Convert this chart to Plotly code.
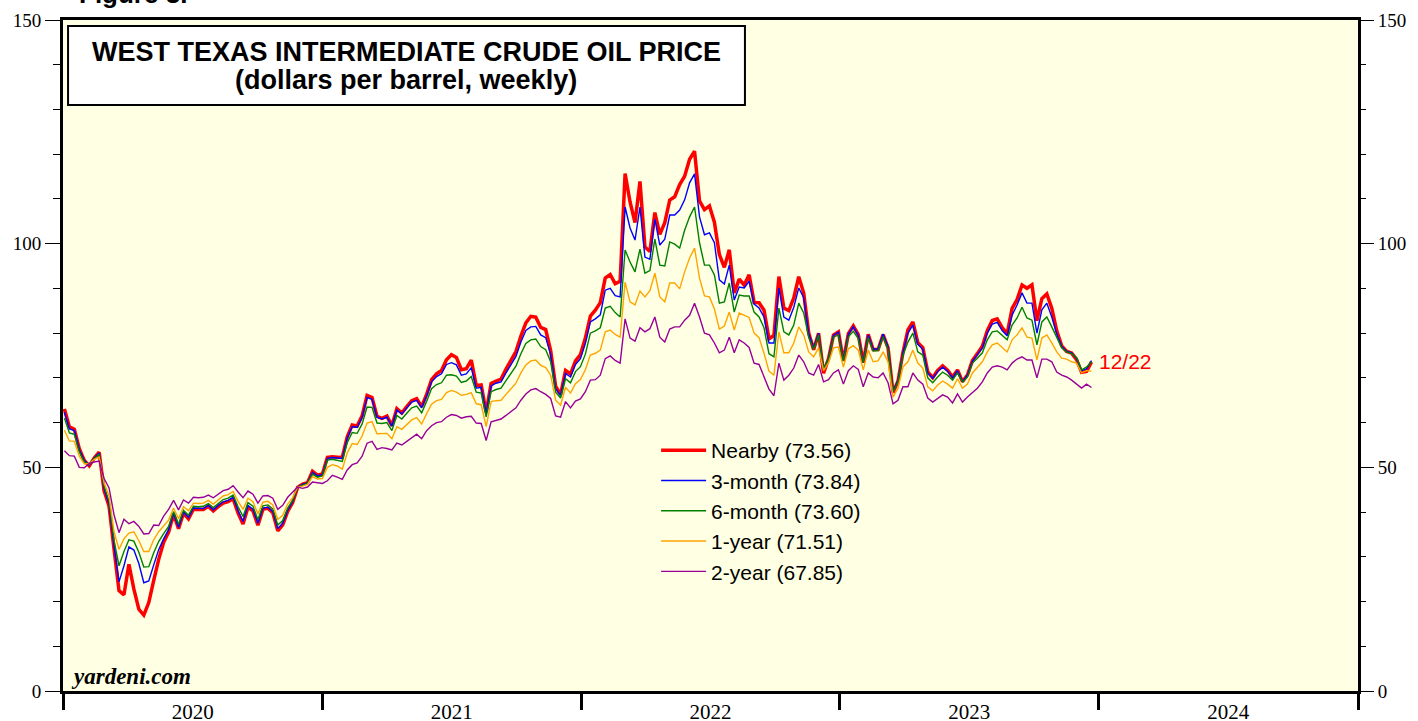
import pandas as pd
import plotly.graph_objects as go

# Weekly dates (Fridays) Jan 3, 2020 .. Dec 22, 2023
dates = pd.date_range("2020-01-03", "2023-12-22", freq="W-FRI")

nearby = [
    63.05, 59.04, 58.54, 54.19, 51.56, 50.32, 52.05, 53.38, 44.76, 41.28, 31.73, 22.43, 21.51,
    28.34, 22.76, 18.27, 16.94, 19.78, 24.74, 29.43, 33.25, 35.49, 39.55, 36.26, 39.75, 38.49,
    40.65, 40.55, 40.59, 41.29, 40.27, 41.22, 42.01, 42.34, 42.97, 39.77, 37.33, 41.11, 40.25,
    37.05, 40.60, 40.88, 39.85, 35.79, 37.14, 40.13, 42.15, 45.53, 46.26, 46.57, 49.10, 48.23,
    48.52, 52.24, 52.36, 52.27, 52.20, 56.85, 59.47, 59.24, 61.50, 66.09, 65.61, 61.42, 60.97,
    61.45, 59.32, 63.13, 62.14, 63.58, 64.90, 65.37, 63.58, 66.32, 69.62, 70.91, 71.64, 74.05,
    75.16, 74.56, 71.81, 72.07, 73.95, 68.28, 68.44, 62.32, 68.74, 69.29, 69.72, 71.97, 73.98,
    75.88, 79.35, 82.28, 83.76, 83.57, 81.27, 80.79, 76.10, 68.15, 66.26, 71.67, 70.86, 73.79, 75.21,
    78.90, 83.82, 85.14, 86.82, 92.31, 93.10, 91.07, 91.59, 115.68, 109.33, 104.70, 113.90,
    99.27, 98.26, 106.95, 102.07, 104.69, 109.77, 110.49, 113.23, 115.07, 118.87, 120.67, 109.56,
    107.62, 108.43, 104.79, 97.59, 94.70, 98.62, 89.01, 92.09, 90.77, 93.06, 86.87, 86.79, 85.11,
    78.74, 79.49, 92.64, 85.61, 85.05, 87.90, 92.61, 88.96, 80.08, 76.28, 79.98, 71.02, 74.29,
    79.56, 80.26,
    73.77, 79.86, 81.64, 79.68, 73.39, 79.72, 76.34, 76.32, 79.68, 76.68, 66.74, 69.26, 75.67,
    80.70, 82.52, 77.87, 76.78, 71.34, 70.04, 71.69, 72.67, 71.74, 70.17, 71.78, 69.16, 70.64,
    73.86, 75.42, 77.07, 80.58, 82.82, 83.19, 81.25, 79.83, 85.55, 87.51, 90.77, 90.03, 90.79,
    82.79, 87.69, 88.75, 85.54, 80.51, 77.17, 75.89, 75.54, 74.07, 71.23, 71.43, 73.56,
]

month3 = [
    62.3, 58.6, 58.2, 54.0, 51.5, 50.5, 52.1, 53.2, 45.2, 41.7, 32.4, 24.4, 28.0,
    32.2, 31.5, 28.5, 24.2, 24.6, 28.2, 31.6, 34.0, 36.0, 39.7, 36.6, 40.0, 38.8,
    40.9, 40.8, 40.8, 41.5, 40.5, 41.5, 42.3, 42.6, 43.3, 40.3, 37.9, 41.5, 40.6,
    37.5, 40.9, 41.1, 40.1, 36.3, 37.5, 40.4, 42.3, 45.6, 46.2, 46.5, 48.9, 48.1,
    48.4, 52.0, 52.2, 52.1, 52.0, 56.5, 59.1, 58.9, 61.2, 65.6, 65.2, 61.2, 60.8,
    61.2, 59.2, 62.8, 61.9, 63.3, 64.6, 65.0, 63.3, 66.0, 69.1, 70.3, 70.9, 73.0,
    73.4, 72.9, 70.6, 70.9, 72.3, 67.7, 67.9, 62.1, 68.2, 68.8, 69.1, 71.1, 73.0,
    74.8, 78.0, 80.6, 81.4, 81.5, 79.6, 79.0, 75.2, 67.6, 66.1, 71.0, 70.2, 73.0, 74.3,
    77.7, 82.5, 83.2, 84.1, 89.6, 90.0, 88.4, 88.1, 108.2, 103.5, 100.8, 108.2,
    97.0, 96.5, 105.5, 99.7, 101.0, 106.4, 106.4, 107.5, 109.8, 113.6, 115.6, 106.0,
    102.0, 102.4, 100.2, 91.9, 91.0, 95.2, 87.4, 90.3, 90.1, 91.6, 86.5, 85.6, 83.6,
    77.8, 77.8, 90.1, 83.6, 82.9, 85.8, 90.1, 87.9, 80.0, 76.6, 80.0, 71.8, 74.4,
    79.5, 80.2,
    74.0, 79.8, 81.4, 79.5, 73.5, 79.6, 76.4, 76.5, 79.8, 76.9, 67.0, 69.4, 75.6,
    80.0, 81.8, 77.5, 76.4, 71.1, 69.9, 71.4, 72.4, 71.5, 70.0, 71.6, 69.2, 70.6,
    73.7, 75.2, 76.7, 80.0, 82.0, 82.4, 80.6, 79.4, 84.0, 86.3, 89.0, 86.7, 86.7,
    80.0, 85.2, 86.7, 83.6, 79.8, 77.0, 75.9, 75.6, 74.3, 71.6, 72.0, 73.84,
]

month6 = [
    61.0, 57.7, 57.4, 53.5, 51.2, 50.7, 52.0, 52.9, 45.7, 42.4, 33.6, 28.0, 31.2,
    33.8, 33.5, 31.0, 27.7, 27.8, 30.9, 33.4, 35.2, 36.8, 40.1, 37.3, 40.4, 39.3,
    41.3, 41.2, 41.3, 41.9, 41.0, 42.0, 42.8, 43.1, 43.8, 41.2, 39.0, 42.1, 41.3,
    38.3, 41.4, 41.6, 40.7, 37.1, 38.1, 40.9, 42.6, 45.6, 46.0, 46.4, 48.5, 47.8,
    48.1, 51.6, 51.8, 51.6, 51.3, 55.5, 57.8, 57.6, 59.7, 63.5, 63.4, 59.9, 59.8,
    60.0, 58.2, 61.6, 60.8, 62.1, 63.3, 63.7, 62.2, 64.7, 67.6, 68.5, 68.9, 70.6,
    70.7, 70.4, 69.0, 69.3, 70.3, 66.8, 66.6, 61.3, 66.9, 67.4, 67.7, 69.4, 71.0,
    72.6, 75.4, 77.7, 78.5, 78.7, 77.0, 76.3, 73.6, 66.8, 65.5, 69.8, 68.9, 71.4, 72.5,
    75.3, 80.0, 80.5, 81.2, 85.6, 86.0, 84.6, 83.6, 98.6, 95.9, 93.7, 98.8,
    93.4, 94.0, 101.0, 95.2, 95.0, 100.4, 99.9, 99.0, 103.0, 106.0, 108.2, 100.2,
    95.2, 95.2, 93.0, 86.7, 87.0, 91.2, 84.7, 88.5, 88.3, 88.3, 84.7, 83.6, 81.2,
    75.4, 74.7, 85.6, 80.3, 79.6, 81.8, 86.7, 84.5, 79.1, 76.4, 79.6, 72.0, 74.3,
    79.1, 79.6,
    73.8, 79.2, 80.4, 78.8, 73.4, 79.0, 76.0, 76.1, 79.2, 76.4, 66.9, 69.1, 75.0,
    78.0, 80.0, 75.8, 75.1, 70.0, 68.9, 70.2, 71.3, 70.6, 69.5, 71.1, 69.1, 70.2,
    73.3, 74.4, 75.6, 78.5, 80.3, 80.5, 79.6, 78.5, 81.8, 83.4, 85.8, 83.4, 82.9,
    77.4, 82.5, 83.6, 81.4, 78.9, 76.7, 75.8, 75.4, 74.5, 71.8, 72.4, 73.60,
]

year1 = [
    58.3, 55.9, 55.8, 52.5, 50.8, 50.8, 51.8, 52.3, 46.5, 43.6, 35.6, 31.7, 34.0,
    35.3, 35.6, 33.6, 31.2, 31.2, 33.8, 35.6, 36.9, 38.2, 40.9, 38.5, 41.2, 40.3,
    42.0, 41.9, 42.0, 42.6, 41.8, 42.8, 43.6, 43.9, 44.6, 42.4, 40.6, 43.1, 42.3,
    39.6, 42.2, 42.4, 41.6, 38.4, 39.3, 41.8, 43.2, 45.6, 45.8, 46.2, 47.9, 47.4,
    47.5, 50.0, 50.6, 50.3, 49.6, 53.2, 55.3, 55.1, 57.0, 59.9, 60.2, 57.5, 57.6,
    57.6, 56.4, 59.1, 58.5, 59.6, 60.6, 61.1, 59.7, 62.0, 64.1, 64.9, 65.2, 66.7,
    67.2, 66.8, 66.1, 66.3, 66.7, 64.2, 64.0, 59.1, 64.7, 64.9, 65.0, 66.3, 67.6,
    68.8, 71.1, 72.9, 73.8, 74.0, 72.8, 72.3, 70.6, 65.0, 63.9, 67.9, 66.6, 68.7, 69.6,
    71.8, 75.1, 75.5, 76.2, 80.3, 80.7, 79.7, 79.1, 91.4, 87.0, 86.3, 89.4,
    88.1, 89.5, 93.4, 88.1, 87.0, 91.2, 91.2, 89.9, 93.7, 96.8, 99.0, 92.3,
    88.3, 88.1, 85.4, 80.9, 81.6, 84.7, 80.7, 84.5, 84.0, 83.5, 80.0, 79.0, 75.5,
    71.5, 70.6, 80.3, 75.6, 75.6, 77.8, 81.4, 79.6, 75.8, 74.7, 76.7, 71.6, 73.4,
    76.7, 76.9,
    72.4, 76.5, 77.2, 76.2, 71.8, 76.2, 73.6, 73.8, 75.8, 73.6, 65.7, 67.7, 72.4,
    73.6, 76.2, 73.3, 72.2, 68.0, 67.1, 68.4, 69.3, 68.6, 67.7, 69.8, 67.7, 68.6,
    71.1, 72.4, 73.6, 75.8, 77.4, 77.8, 76.9, 75.8, 78.5, 79.6, 81.2, 79.1, 78.9,
    74.0, 78.9, 79.6, 77.8, 75.8, 74.4, 74.2, 73.6, 73.3, 71.1, 71.6, 71.51,
]

year2 = [
    53.7, 52.6, 52.5, 50.0, 49.9, 50.9, 51.2, 51.4, 47.5, 45.4, 39.4, 35.4, 38.4,
    37.4, 37.9, 36.8, 35.1, 35.2, 37.1, 37.0, 39.1, 40.6, 42.6, 40.5, 42.7, 42.0,
    43.3, 43.2, 43.3, 43.8, 43.2, 44.1, 44.8, 45.1, 45.9, 44.5, 43.2, 44.7, 44.0,
    42.0, 43.6, 43.7, 43.1, 40.6, 41.5, 43.3, 44.4, 45.6, 45.3, 45.6, 46.7, 46.5,
    46.4, 47.0, 48.2, 47.8, 47.3, 49.4, 50.6, 51.0, 52.5, 55.4, 55.8, 54.0, 54.4,
    54.2, 53.9, 55.4, 55.0, 55.8, 56.6, 57.4, 56.4, 58.2, 59.3, 60.0, 60.2, 61.2,
    61.8, 61.6, 61.0, 61.3, 61.4, 59.9, 59.8, 56.0, 60.2, 60.5, 60.8, 61.6, 62.5,
    63.3, 65.0, 66.4, 67.3, 67.6, 66.9, 66.3, 65.4, 61.5, 61.2, 64.7, 63.3, 64.8, 65.3,
    66.9, 69.5, 69.6, 70.6, 74.3, 74.9, 73.9, 73.3, 83.2, 78.9, 78.2, 81.2,
    80.3, 81.0, 83.6, 79.1, 78.0, 80.9, 81.4, 81.4, 82.9, 84.0, 86.7, 83.6,
    80.0, 79.6, 77.8, 75.6, 76.2, 79.1, 75.6, 78.5, 77.8, 76.8, 73.3, 73.0, 70.4,
    67.5, 66.0, 73.3, 69.5, 70.6, 72.2, 75.1, 73.6, 71.1, 70.6, 73.0, 69.1, 69.6,
    71.1, 71.8,
    68.6, 71.6, 72.7, 71.9, 68.0, 71.1, 70.2, 70.0, 71.1, 68.9, 64.2, 65.0, 68.0,
    68.0, 71.1, 69.5, 68.6, 65.5, 64.6, 65.5, 66.2, 65.7, 64.4, 66.4, 64.6, 65.7,
    66.6, 67.7, 69.1, 71.1, 72.4, 72.7, 72.4, 71.8, 73.3, 74.2, 74.7, 74.0, 74.0,
    70.0, 74.2, 74.2, 73.6, 71.3, 70.6, 70.2, 69.5, 68.6, 67.7, 68.6, 67.85,
]

series_names = ["Nearby", "3-month", "6-month", "1-year", "2-year"]
series_colors = ["#FF0000", "#0000FF", "#008000", "#FFA500", "#990099"]
series_widths = [3.5, 1.4, 1.4, 1.4, 1.4]
series_data = [nearby, month3, month6, year1, year2]

SERIF = "Liberation Serif, Times New Roman, serif"
SANS = "Liberation Sans, Arial, sans-serif"

fig = go.Figure()
for name, color, width, vals in zip(series_names, series_colors, series_widths, series_data):
    fig.add_trace(go.Scatter(
        x=dates, y=vals, mode="lines", name=f"{name} ({vals[-1]:.2f})",
        line=dict(color=color, width=width), hoverinfo="x+y",
    ))

# invisible trace to carry the right-hand axis
fig.add_trace(go.Scatter(x=dates, y=nearby, yaxis="y2", mode="lines",
                         line=dict(width=0), opacity=0, showlegend=False, hoverinfo="skip"))

yaxis_common = dict(
    range=[0, 150], dtick=50, tick0=0, ticks="outside", ticklen=15, tickwidth=1,
    tickcolor="black", showgrid=False, zeroline=False, automargin=False,
    tickfont=dict(family=SERIF, size=19, color="black"),
    minor=dict(dtick=10, ticks="outside", ticklen=7, tickwidth=1, tickcolor="black", showgrid=False),
)

fig.update_layout(
    width=1418, height=721,
    margin=dict(l=63, r=60, t=20, b=30, autoexpand=False),
    paper_bgcolor="white",
    plot_bgcolor="#FFFFE3",
    showlegend=True,
    legend=dict(
        x=0.458, y=0.389, xanchor="left", yanchor="top",
        bgcolor="rgba(0,0,0,0)", borderwidth=0,
        font=dict(family=SANS, size=21, color="black"),
        itemwidth=45, tracegroupgap=0,
    ),
    xaxis=dict(
        type="date", range=["2020-01-01", "2025-01-01"],
        dtick="M12", tick0="2020-01-01", tickformat="%Y", ticklabelmode="period",
        ticks="outside", ticklen=16, tickwidth=3, tickcolor="black",
        showline=True, linewidth=3, linecolor="black", mirror=True,
        showgrid=False, zeroline=False, automargin=False, ticklabelstandoff=-16,
        tickfont=dict(family=SERIF, size=21, color="black"),
    ),
    yaxis=dict(showline=True, linewidth=3, linecolor="black", mirror=True, side="left", **yaxis_common),
    yaxis2=dict(overlaying="y", side="right", showline=False, **yaxis_common),
    shapes=[dict(
        type="rect", xref="paper", yref="paper",
        x0=0.0039, x1=0.5266, y0=0.8733, y1=0.991,
        fillcolor="white", line=dict(color="black", width=2), layer="above",
    )],
    annotations=[
        dict(text="<b>WEST TEXAS INTERMEDIATE CRUDE OIL PRICE</b>", xref="paper", yref="paper",
             x=0.2649, y=(691 - 52) / 671, xanchor="center", yanchor="middle", showarrow=False,
             font=dict(family=SANS, size=27, color="black")),
        dict(text="<b>(dollars per barrel, weekly)</b>", xref="paper", yref="paper",
             x=0.2649, y=(691 - 80) / 671, xanchor="center", yanchor="middle", showarrow=False,
             font=dict(family=SANS, size=27, color="black")),
        dict(text="<b>Figure 3.</b>", xref="paper", yref="paper",
             x=(77 - 63) / 1295, y=1.0134, xanchor="left", yanchor="bottom", showarrow=False,
             font=dict(family=SANS, size=26, color="black")),
        dict(text="<b><i>yardeni.com</i></b>", xref="paper", yref="paper",
             x=(69 - 63) / 1295, y=(691 - 676) / 671, xanchor="left", yanchor="middle", showarrow=False,
             font=dict(family=SERIF, size=23, color="black")),
        dict(text="12/22", xref="x", yref="y", x=dates[-1], y=nearby[-1],
             xanchor="left", yanchor="middle", xshift=6, showarrow=False,
             font=dict(family=SANS, size=21, color="#FF0000")),
    ],
)

# remove the default 8px page margin so the figure fills the window exactly
fig.write_html("out.html", config={"displayModeBar": False},
               post_script="document.body.style.margin='0';")
